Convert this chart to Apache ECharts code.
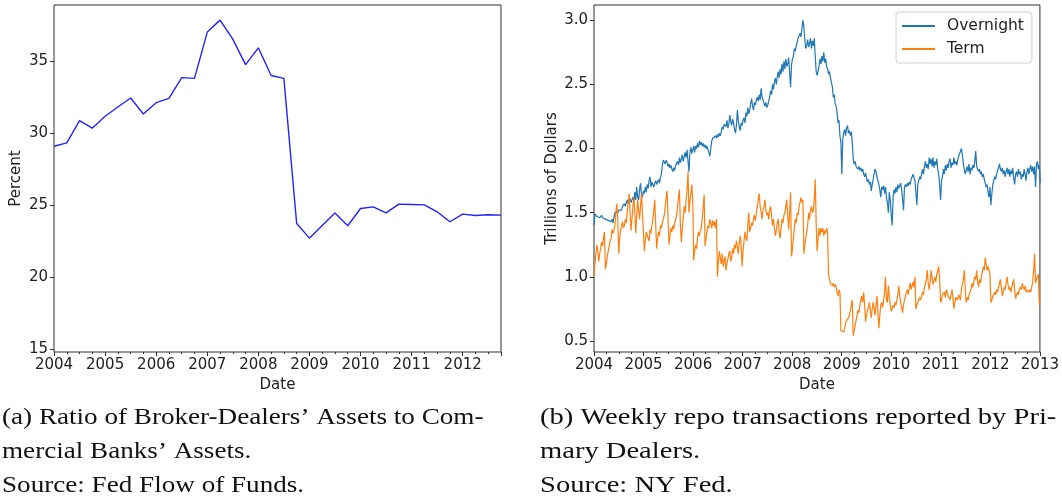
<!DOCTYPE html>
<html><head><meta charset="utf-8">
<script src="https://cdn.jsdelivr.net/npm/echarts@6/dist/echarts.min.js"></script>
<style>html,body{margin:0;padding:0;background:#fff}#c{width:1062px;height:498px}</style>
</head><body><div id="c"></div>
<script>
// ---------- Panel (a): quarterly ratio, starting 2004 Q1 ----------
const ratioStartYear = 2004;
const brokerDealerRatio = [29.09,29.32,30.87,30.34,31.17,31.81,32.44,31.33,32.11,32.41,33.85,33.80,
  37.01,37.84,36.52,34.75,35.92,34.00,33.80,23.73,22.71,23.59,24.45,23.57,
  24.77,24.88,24.47,25.07,25.05,25.02,24.54,23.85,24.38,24.28,24.33,24.31];
const leftYTicks = [15,20,25,30,35];

// ---------- Panel (b): weekly repo (trillions of dollars), starting first week of 2004 ----------
const overnight2004 = [1.40,1.49,1.48,1.47,1.48,1.47,1.46,1.47,1.48,1.46,1.47,
  1.46,1.45,1.46,1.45,1.44,1.45,1.44,1.43,1.45,1.42,
  1.46,1.50,1.49,1.51,1.50,1.52,1.51,1.53,1.52,1.55,
  1.54,1.57,1.55,1.58,1.60,1.57,1.59,1.61,1.58,1.60,
  1.62,1.59,1.66,1.60,1.70,1.62,1.60,1.68,1.73,1.64,1.62,1.67,1.65];
const overnight2005 = [1.70,1.66,1.72,1.69,1.75,1.78,1.70,1.74,1.72,1.70,
  1.73,1.75,1.72,1.74,1.76,1.73,1.78,1.80,
  1.87,1.91,1.90,1.88,1.91,1.89,1.86,1.88,
  1.85,1.87,1.84,1.82,1.85,1.83,1.87,1.86,
  1.90,1.87,1.93,1.89,1.92,1.95,1.90,1.94,
  1.97,1.93,1.99,2.00,1.82,1.97,2.01,1.96,1.99,2.02];
const overnight2006 = [1.97,2.02,2.00,2.04,2.01,2.06,2.03,2.05,2.02,2.04,
  2.01,2.03,2.00,2.02,1.99,1.97,1.94,2.00,
  2.06,2.08,2.07,2.09,2.10,2.08,2.11,2.09,
  2.12,2.10,2.13,2.17,2.15,2.19,2.20,2.17,
  2.22,2.16,2.19,2.26,2.21,2.18,2.23,2.20,
  2.15,2.12,2.18,2.30,2.22,2.17,2.14,2.20,2.18,2.22];
const overnight2007 = [2.24,2.20,2.28,2.25,2.32,2.27,2.30,2.35,2.39,2.33,
  2.30,2.36,2.34,2.38,2.40,2.37,2.42,2.38,
  2.47,2.40,2.38,2.35,2.33,2.36,2.32,2.34,
  2.37,2.40,2.45,2.42,2.50,2.46,2.52,2.55,
  2.50,2.56,2.60,2.55,2.62,2.58,2.66,2.60,
  2.68,2.62,2.70,2.64,2.66,2.71,2.60,2.48,2.65,2.70];
const overnight2008 = [2.72,2.78,2.76,2.80,2.79,2.86,2.88,2.90,2.87,2.94,
  3.00,2.95,2.85,2.78,2.80,2.85,2.79,2.82,
  2.86,2.78,2.84,2.80,2.86,2.72,2.60,2.57,
  2.58,2.64,2.70,2.66,2.72,2.68,2.75,2.67,
  2.70,2.64,2.62,2.58,2.60,2.55,2.56,2.48,
  2.40,2.42,2.35,2.33,2.28,2.20,2.22,2.10,2.05,1.80];
const overnight2009 = [2.08,2.12,2.15,2.10,2.16,2.18,2.12,2.14,2.10,2.13,
  2.05,1.92,1.88,1.90,1.86,1.87,1.84,1.86,1.83,1.85,
  1.82,1.84,1.80,1.78,1.81,1.77,1.74,1.76,1.72,1.74,
  1.67,1.72,1.76,1.80,1.84,1.82,1.78,1.75,1.72,1.68,
  1.62,1.70,1.68,1.71,1.65,1.70,1.62,1.58,1.50,1.66,1.60,1.48,1.40];
const overnight2010 = [1.62,1.68,1.65,1.70,1.66,1.72,1.69,1.70,1.73,1.68,
  1.60,1.52,1.70,1.72,1.70,1.73,1.71,1.74,1.72,1.76,
  1.78,1.80,1.77,1.75,1.66,1.56,1.72,1.75,1.78,1.76,
  1.80,1.84,1.80,1.86,1.90,1.85,1.88,1.84,1.93,1.88,
  1.92,1.86,1.93,1.85,1.90,1.87,1.92,1.84,1.80,1.72,1.60,1.75];
const overnight2011 = [1.78,1.84,1.80,1.87,1.83,1.88,1.85,1.90,1.92,1.85,
  1.89,1.87,1.93,1.88,1.90,1.87,1.91,1.94,1.96,1.95,
  2.00,1.95,1.88,1.84,1.80,1.83,1.86,1.82,1.88,1.80,
  1.85,1.83,1.87,1.85,1.90,1.98,1.86,1.84,1.82,1.84,
  1.80,1.82,1.78,1.80,1.76,1.73,1.70,1.72,1.66,1.62,1.70,1.56];
const overnight2012 = [1.65,1.72,1.75,1.78,1.76,1.80,1.83,1.85,1.88,1.84,
  1.82,1.85,1.80,1.83,1.78,1.82,1.85,1.80,1.84,1.78,
  1.83,1.80,1.85,1.77,1.72,1.80,1.82,1.78,1.84,1.80,
  1.82,1.76,1.80,1.78,1.84,1.80,1.75,1.82,1.85,1.80,
  1.84,1.87,1.82,1.86,1.80,1.86,1.70,1.88,1.90,1.84,1.87,1.73];

const term2004 = [1.00,1.10,1.18,1.25,1.20,1.12,1.18,1.22,1.27,1.24,
  1.30,1.35,1.06,1.10,1.16,1.20,1.24,1.28,1.30,1.37,
  1.34,1.36,1.40,1.50,1.57,1.45,1.18,1.30,1.36,1.40,
  1.43,1.38,1.40,1.45,1.42,1.50,1.58,1.65,1.50,1.36,
  1.45,1.55,1.62,1.50,1.34,1.48,1.60,1.52,1.45,1.55,1.65,1.50,1.36];
const term2005 = [1.20,1.28,1.35,1.33,1.30,1.28,1.37,1.34,1.40,1.45,
  1.52,1.60,1.40,1.22,1.30,1.35,1.32,1.40,1.38,1.42,
  1.45,1.48,1.55,1.62,1.67,1.45,1.25,1.32,1.38,1.35,
  1.40,1.37,1.42,1.45,1.48,1.55,1.62,1.68,1.40,1.27,
  1.38,1.45,1.55,1.50,1.60,1.68,1.82,1.50,1.58,1.65,1.72,1.60];
const term2006 = [1.13,1.20,1.25,1.22,1.30,1.35,1.32,1.36,1.38,1.45,
  1.55,1.64,1.24,1.30,1.35,1.40,1.38,1.45,1.42,1.38,
  1.44,1.40,1.43,1.38,1.45,1.00,1.12,1.20,1.15,1.10,
  1.18,1.08,1.12,1.16,1.05,1.10,1.14,1.18,1.20,1.12,
  1.15,1.22,1.18,1.25,1.22,1.28,1.24,1.18,1.26,1.32,1.25,1.08];
const term2007 = [1.20,1.28,1.35,1.30,1.28,1.40,1.50,1.35,1.38,1.42,
  1.40,1.45,1.48,1.44,1.50,1.55,1.60,1.65,1.55,1.50,
  1.45,1.52,1.55,1.60,1.52,1.48,1.50,1.45,1.52,1.55,
  1.48,1.40,1.45,1.38,1.32,1.36,1.42,1.45,1.35,1.30,
  1.38,1.45,1.42,1.48,1.50,1.55,1.60,1.48,1.37,1.50,1.66,1.16];
const term2008 = [1.22,1.30,1.38,1.45,1.42,1.50,1.48,1.55,1.58,1.62,
  1.58,1.60,1.18,1.25,1.30,1.35,1.40,1.50,1.45,1.52,
  1.55,1.50,1.52,1.60,1.76,1.40,1.20,1.30,1.38,1.32,
  1.38,1.35,1.38,1.32,1.36,1.34,1.38,1.35,1.02,0.98,
  0.95,0.96,0.93,0.95,0.92,0.94,0.92,0.88,0.85,0.90,0.88,0.58];
const term2009 = [0.58,0.57,0.57,0.60,0.64,0.66,0.65,0.68,0.70,0.74,
  0.78,0.82,0.54,0.58,0.62,0.66,0.70,0.74,0.72,0.78,
  0.82,0.85,0.80,0.88,0.78,0.65,0.70,0.74,0.76,0.80,
  0.74,0.68,0.75,0.80,0.76,0.70,0.78,0.85,0.72,0.60,
  0.70,0.78,0.80,0.76,0.75,0.88,1.00,0.82,0.80,0.93,0.85,0.78,0.73];
const term2010 = [0.75,0.78,0.76,0.80,0.78,0.82,0.86,0.93,0.85,0.80,
  0.76,0.72,0.78,0.82,0.85,0.88,0.90,0.86,0.92,0.95,
  0.90,0.93,0.96,0.92,1.00,0.75,0.78,0.80,0.82,0.84,
  0.82,0.85,0.88,0.86,0.92,0.95,0.98,1.05,0.95,0.90,
  0.96,1.05,1.00,0.94,0.95,1.00,0.96,1.02,1.05,1.08,0.98,0.80];
const term2011 = [0.82,0.86,0.85,0.88,0.84,0.90,0.88,0.85,0.86,0.82,
  0.86,0.90,0.84,0.75,0.80,0.84,0.85,0.82,0.86,0.84,
  0.82,0.90,0.95,0.98,1.05,0.90,0.80,0.84,0.82,0.86,
  0.85,0.90,0.95,0.92,0.96,1.00,0.98,1.05,0.96,0.92,
  0.98,0.95,1.00,1.04,1.08,1.05,1.15,1.10,1.05,1.08,1.07,1.02];
const term2012 = [0.80,0.82,0.85,0.84,0.88,0.86,0.90,0.88,0.92,0.95,
  0.98,0.92,0.85,0.88,0.92,0.90,0.95,1.00,0.94,0.90,
  0.92,0.88,0.92,0.95,0.98,0.90,0.83,0.86,0.88,0.86,
  0.90,0.92,0.90,0.95,0.92,0.90,0.93,0.88,0.90,0.89,
  0.88,0.90,0.88,0.92,0.96,1.05,1.18,0.95,0.98,1.00,1.02,0.78];
const rightYTicks = [0.5,1.0,1.5,2.0,2.5,3.0];
const weeklyStartYear = 2004;

const captionA = ['(a) Ratio of Broker-Dealers’ Assets to Com-', 'mercial Banks’ Assets.', 'Source: Fed Flow of Funds.'];
const captionB = ['(b) Weekly repo transactions reported by Pri-', 'mary Dealers.', 'Source: NY Fed.'];

// ---------- build series ----------
const overnight = [].concat(overnight2004,overnight2005,overnight2006,overnight2007,overnight2008,
  overnight2009,overnight2010,overnight2011,overnight2012);
const term = [].concat(term2004,term2005,term2006,term2007,term2008,term2009,term2010,term2011,term2012);
const weekX = i => weeklyStartYear + i * 7 / 365.25;
const quarterX = i => ratioStartYear + i / 4;

const FONT = 'DejaVu Sans';
const axisColor = '#2e2e2e';
const labelStyle = {fontFamily: FONT, fontSize: 15, color: '#222'};
const capFont = '24px "Liberation Serif"';

function captionGraphics(lines, x, sx) {
  return lines.map((t, k) => ({
    type: 'text', x: x, y: 406 + k * 34, scaleX: sx, originX: 0,
    style: {text: t, font: capFont, fill: '#111', textVerticalAlign: 'top'}
  }));
}

const chart = echarts.init(document.getElementById('c'), null, {renderer: 'canvas'});
chart.setOption({
  animation: false,
  backgroundColor: '#fff',
  grid: [
    {left: 54, top: 5, width: 447, height: 347, show: true, borderColor: axisColor, borderWidth: 1},
    {left: 594, top: 5, width: 447, height: 347, show: true, borderColor: axisColor, borderWidth: 1}
  ],
  legend: {
    data: [{name: 'Overnight', icon: 'rect'}, {name: 'Term', icon: 'rect'}],
    orient: 'vertical', left: 896, top: 12,
    padding: [5, 8, 5, 6], itemGap: 5, itemWidth: 33, itemHeight: 2,
    borderColor: '#d0d0d0', borderWidth: 1, borderRadius: 3,
    backgroundColor: 'rgba(255,255,255,0.8)',
    textStyle: {fontFamily: FONT, fontSize: 15.5, color: '#222', lineHeight: 18, padding: [0,0,0,7]}
  },
  xAxis: [
    {type: 'value', gridIndex: 0, min: 2004, max: 2012.75, interval: 1,
     axisLine: {show: false}, splitLine: {show: false},
     axisTick: {show: true, length: 4, lineStyle: {color: axisColor}},
     minorTick: {show: true, splitNumber: 4, length: 2, lineStyle: {color: axisColor}},
     axisLabel: Object.assign({margin: 6, showMaxLabel: false, formatter: v => String(Math.round(v))}, labelStyle),
     name: 'Date', nameLocation: 'middle', nameGap: 24, nameTextStyle: labelStyle},
    {type: 'value', gridIndex: 1, min: 2004, max: 2013, interval: 1,
     axisLine: {show: false}, splitLine: {show: false},
     axisTick: {show: true, length: 4, lineStyle: {color: axisColor}},
     minorTick: {show: true, splitNumber: 4, length: 2, lineStyle: {color: axisColor}},
     axisLabel: Object.assign({margin: 6, formatter: v => String(Math.round(v))}, labelStyle),
     name: 'Date', nameLocation: 'middle', nameGap: 24, nameTextStyle: labelStyle}
  ],
  yAxis: [
    {type: 'value', gridIndex: 0, min: 14.81, max: 38.89,
     axisLine: {show: false}, splitLine: {show: false},
     axisTick: {show: true, length: 4, customValues: leftYTicks, lineStyle: {color: axisColor}},
     axisLabel: Object.assign({margin: 6, customValues: leftYTicks, formatter: v => String(v)}, labelStyle),
     name: 'Percent', nameLocation: 'middle', nameGap: 30, nameRotate: 90, nameTextStyle: labelStyle},
    {type: 'value', gridIndex: 1, min: 0.414, max: 3.119,
     axisLine: {show: false}, splitLine: {show: false},
     axisTick: {show: true, length: 4, customValues: rightYTicks, lineStyle: {color: axisColor}},
     axisLabel: Object.assign({margin: 6, customValues: rightYTicks, formatter: v => v.toFixed(1)}, labelStyle),
     name: 'Trillions of Dollars', nameLocation: 'middle', nameGap: 34, nameRotate: 90, nameTextStyle: labelStyle}
  ],
  series: [
    {type: 'line', name: 'Ratio', xAxisIndex: 0, yAxisIndex: 0, showSymbol: false,
     data: brokerDealerRatio.map((v, i) => [quarterX(i), v]),
     lineStyle: {color: '#2323ff', width: 1.4}, itemStyle: {color: '#2323ff'}},
    {type: 'line', name: 'Overnight', xAxisIndex: 1, yAxisIndex: 1, showSymbol: false,
     data: overnight.map((v, i) => [weekX(i), v]),
     lineStyle: {color: '#1f77b4', width: 1.2}, itemStyle: {color: '#1f77b4'}},
    {type: 'line', name: 'Term', xAxisIndex: 1, yAxisIndex: 1, showSymbol: false,
     data: term.map((v, i) => [weekX(i), v]),
     lineStyle: {color: '#ff7f0e', width: 1.2}, itemStyle: {color: '#ff7f0e'}}
  ],
  graphic: captionGraphics(captionA, 2, 1.13).concat(captionGraphics(captionB, 540, 1.19))
});
</script></body></html>
